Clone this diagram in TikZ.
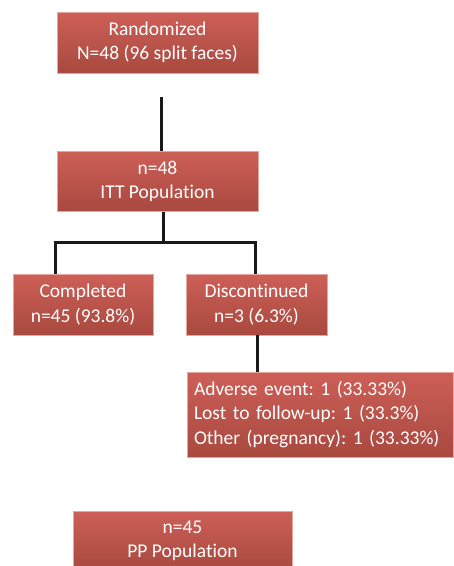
\documentclass[tikz,border=0pt]{standalone}
\usepackage{fontspec}
\setmainfont{Carlito}[Ligatures=NoCommon]
\frenchspacing
\usetikzlibrary{positioning}
\definecolor{boxtop}{HTML}{CD5F57}
\definecolor{boxbottom}{HTML}{A8493F}
\definecolor{boxedge}{HTML}{E3A7A1}

\begin{document}
\begin{tikzpicture}[x = 1pt, y = -1pt,
                box/.style = {draw=boxedge, line width=0.8pt, top color=boxtop,
                  bottom color=boxbottom, text=white, align=center,
                  font=\fontsize{19.5}{24.5}\selectfont, inner sep=0pt},
                link/.style = {line width=3pt, black!90}]
            \useasboundingbox (0, 0) rectangle (454, 566);
            \begin{scope}
            \clip (0, 0) rectangle (454, 566);
            \node[box, minimum width=201pt, minimum height=61pt] (rand) at (157.5, 42.5)
                {Randomized\\N=48 (96 split faces)};
            \node[box, minimum width=201pt, minimum height=60pt] (itt) at (157.5, 181.5)
                {n=48\\ITT Population};
            \node[box, minimum width=140pt, minimum height=61pt] (comp) at (83, 304.5)
                {Completed\\n=45 (93.8\%)};
            \node[box, minimum width=141pt, minimum height=61pt] (disc) at (256.5, 304.5)
                {Discontinued\\n=3 (6.3\%)};
            \node[box, align=left, text width=252pt, inner xsep=7pt,
                  minimum height=85pt] (reason) at (320, 414.5)
                {Adverse event: 1 (33.33\%)\\Lost to follow-up: 1 (33.3\%)\\Other (pregnancy): 1 (33.33\%)};
            \node[box, minimum width=219pt, minimum height=60pt] (pp) at (182.5, 541)
                {n=45\\PP Population};
            \end{scope}
            % connectors
            \coordinate (gap) at (161, 97);
            \coordinate (split) at (163, 242);
            \coordinate (leftcorner) at (55, 242);
            \coordinate (rightcorner) at (255, 242);
            \coordinate (drop) at (257, 0);
            \draw[link] (gap) -- (gap |- itt.north);
            \draw[link] (itt.south -| split) -- (split);
            \draw[link] (leftcorner |- comp.north) -- (leftcorner) -- (rightcorner)
                -- (rightcorner |- disc.north);
            \draw[link] (drop |- disc.south) -- (drop |- reason.north);
        \end{tikzpicture}
\end{document}
